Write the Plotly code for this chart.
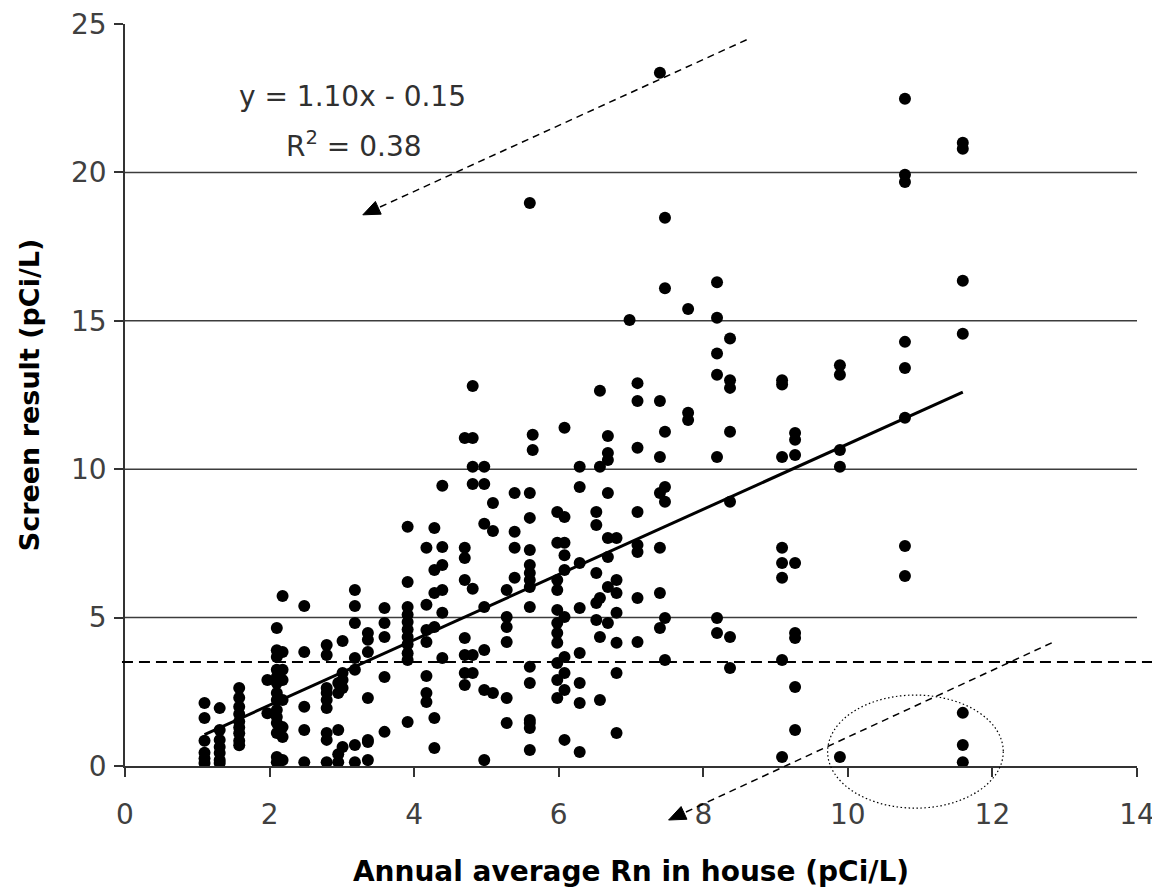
import math
import plotly.graph_objects as go

# ---- data (annual average Rn in house vs screen result) ----
column_rn = [1.10, 1.31, 1.58, 1.97, 2.10, 2.18, 2.48, 2.79, 2.95, 3.01, 3.18, 3.36, 3.59,
             3.91, 4.17, 4.28, 4.39, 4.70, 4.81, 4.97, 5.09, 5.28, 5.39, 5.60, 5.64, 5.98,
             6.08, 6.29, 6.52, 6.57, 6.68, 6.80, 6.98, 7.09, 7.40, 7.47, 7.79, 8.19, 8.37,
             9.09, 9.27, 9.89, 10.79, 11.59]
column_screen = [
    [2.12, 1.62, 0.85, 0.45, 0.25, 0.1],
    [1.95, 1.21, 0.88, 0.64, 0.44, 0.2, 0.1],
    [2.63, 2.3, 2.0, 1.75, 1.5, 1.3, 1.1, 0.85, 0.7],
    [2.9, 1.78],
    [4.65, 3.9, 3.67, 3.24, 3.0, 2.8, 2.46, 2.22, 1.89, 1.65, 1.45, 1.11, 0.3, 0.13],
    [5.73, 3.84, 3.24, 2.9, 2.22, 1.31, 0.98, 0.2],
    [5.39, 3.84, 2.0, 1.21, 0.13],
    [4.08, 3.74, 2.63, 2.46, 2.22, 1.95, 1.11, 0.88, 0.13],
    [2.8, 2.46, 1.21, 0.4, 0.13],
    [4.21, 3.13, 2.9, 2.63, 0.64],
    [5.93, 5.39, 4.82, 3.64, 3.24, 0.71, 0.13],
    [4.48, 4.25, 3.84, 2.29, 0.88, 0.81, 0.2],
    [5.32, 4.82, 4.35, 3.0, 1.15],
    [8.06, 6.2, 5.36, 5.1, 4.85, 4.6, 4.35, 4.1, 3.8, 3.57, 1.48],
    [7.35, 5.43, 4.58, 4.18, 3.03, 2.46, 2.16],
    [8.02, 6.6, 5.83, 4.68, 1.62, 0.61],
    [9.44, 7.38, 6.77, 5.93, 5.16, 3.64],
    [11.05, 7.35, 7.01, 6.27, 4.31, 3.74, 3.13, 2.73],
    [12.8, 11.05, 10.08, 9.5, 5.97, 3.74, 3.13],
    [10.08, 9.5, 8.16, 5.36, 3.91, 2.56, 0.2],
    [8.86, 7.92, 2.46],
    [5.93, 5.02, 4.68, 4.18, 2.29, 1.45],
    [9.2, 7.89, 7.35, 6.34],
    [18.97, 9.2, 8.36, 7.28, 6.77, 6.5, 6.27, 6.03, 5.36, 3.34, 2.8, 1.55, 1.45, 1.28, 0.54],
    [11.16, 10.65],
    [8.56, 7.52, 6.27, 5.93, 5.26, 4.82, 4.48, 4.15, 3.47, 2.9, 2.29],
    [11.4, 8.39, 7.52, 7.1, 6.6, 5.02, 3.67, 3.13, 2.56, 0.88],
    [10.08, 9.4, 6.84, 5.32, 3.81, 2.8, 2.12, 0.47],
    [8.56, 8.12, 6.5, 5.49, 4.92],
    [12.64, 10.08, 5.66, 4.35, 2.22],
    [11.12, 10.55, 10.31, 9.2, 7.68, 7.04, 6.03, 4.82],
    [7.68, 6.27, 5.83, 5.16, 4.15, 3.13, 1.11],
    [15.03],
    [12.9, 12.3, 10.72, 8.56, 7.45, 7.21, 5.66, 4.18],
    [23.36, 12.3, 10.41, 9.2, 7.35, 5.83, 4.65],
    [18.47, 16.1, 11.26, 9.4, 8.9, 4.99, 3.57],
    [15.4, 11.9, 11.66],
    [16.3, 15.1, 13.9, 13.18, 10.41, 4.99, 4.48],
    [14.4, 13.0, 12.74, 11.26, 8.9, 4.35, 3.3],
    [13.0, 12.85, 10.41, 7.35, 6.84, 6.34, 3.57, 0.3],
    [11.22, 10.99, 10.48, 6.84, 4.48, 4.31, 2.66, 1.21],
    [13.5, 13.18, 10.65, 10.08, 0.3],
    [22.48, 19.92, 19.68, 14.29, 13.41, 11.73, 7.41, 6.4],
    [21.0, 20.8, 16.35, 14.56, 1.79, 0.71, 0.13],
]

fit_slope = 1.10
fit_intercept = -0.15
fit_x_range = [1.10, 11.59]
action_level = 3.5
gridline_values = [5, 10, 15, 20]
x_ticks = [0, 2, 4, 6, 8, 10, 12, 14]
y_ticks = [0, 5, 10, 15, 20, 25]
X_MAX, Y_MAX = 14, 25

# ---- figure geometry ----
W, H = 1152, 888
M_L, M_R, M_T, M_B = 125, 15, 24, 122
PW, PH = W - M_L - M_R, H - M_T - M_B

# ---- flatten ----
rn_x, screen_y = [], []
for xv, ys in zip(column_rn, column_screen):
    for yv in ys:
        rn_x.append(xv)
        screen_y.append(yv)

fit_y = [fit_slope * v + fit_intercept for v in fit_x_range]

fig = go.Figure()
fig.add_trace(go.Scatter(
    x=rn_x, y=screen_y, mode="markers",
    marker=dict(color="black", size=12, line=dict(width=0)),
    showlegend=False, hoverinfo="x+y"))
fig.add_trace(go.Scatter(
    x=fit_x_range, y=fit_y, mode="lines",
    line=dict(color="black", width=3), showlegend=False))

shapes = []
for g in gridline_values:
    shapes.append(dict(type="line", xref="x", yref="y", x0=0, x1=X_MAX, y0=g, y1=g,
                       line=dict(color="#3c3c3c", width=1.5), layer="below"))
# dashed action-level line (extends past the right end of the axes)
shapes.append(dict(type="line", xref="paper", yref="y", x0=-0.003, x1=1.02,
                   y0=action_level, y1=action_level,
                   line=dict(color="black", width=2, dash="11px,6px")))


def px(v):
    return v / X_MAX


def py(v):
    return v / Y_MAX


# dashed arrows (paper coords so they may leave the axes)
arrows = [((8.60, 24.47), (3.29, 18.57)), ((12.82, 4.15), (7.52, -1.82))]
HEAD_LEN, HEAD_HALF = 17, 7
for (xs, ys_), (xt, yt) in arrows:
    dxp = (xt - xs) / X_MAX * PW
    dyp = -(yt - ys_) / Y_MAX * PH
    n = math.hypot(dxp, dyp)
    ux, uy = dxp / n, dyp / n
    tx, ty = px(xt), py(yt)
    base_x = tx - ux * HEAD_LEN / PW
    base_y = ty + uy * HEAD_LEN / PH
    shapes.append(dict(type="line", xref="paper", yref="paper",
                       x0=px(xs), y0=py(ys_), x1=base_x, y1=base_y,
                       line=dict(color="black", width=1.5, dash="7px,5px")))
    nx, ny = -uy, ux
    p1 = (base_x + nx * HEAD_HALF / PW, base_y - ny * HEAD_HALF / PH)
    p2 = (base_x - nx * HEAD_HALF / PW, base_y + ny * HEAD_HALF / PH)
    path = f"M {tx} {ty} L {p1[0]} {p1[1]} L {p2[0]} {p2[1]} Z"
    shapes.append(dict(type="path", xref="paper", yref="paper", path=path,
                       fillcolor="black", line=dict(color="black", width=1)))

# dotted ellipse
shapes.append(dict(type="circle", xref="paper", yref="paper",
                   x0=px(9.72), x1=px(12.15), y0=py(-1.42), y1=py(2.39),
                   line=dict(color="black", width=1.2, dash="1.5px,2.5px")))

eq_font = dict(family="DejaVu Sans", size=28, color="#303030")
annotations = [
    dict(xref="x", yref="y", x=3.15, y=22.55, text="y = 1.10x - 0.15",
         showarrow=False, font=eq_font),
    dict(xref="x", yref="y", x=3.17, y=20.95, text="R<sup>2</sup> = 0.38",
         showarrow=False, font=eq_font),
]

fig.update_layout(
    width=W, height=H,
    margin=dict(l=M_L, r=M_R, t=M_T, b=M_B, pad=0, autoexpand=False),
    paper_bgcolor="white", plot_bgcolor="white",
    shapes=shapes, annotations=annotations,
    showlegend=False,
    xaxis=dict(range=[0, X_MAX], tickvals=x_ticks, ticks="outside", ticklen=9,
               tickwidth=1.5, tickcolor="#333333", showline=True, linecolor="#333333",
               linewidth=1.5, showgrid=False, zeroline=False, ticklabelstandoff=14,
               automargin=False, ticklabeloverflow="allow",
               tickfont=dict(family="DejaVu Sans", size=28, color="#404040"),
               title=dict(text="<b>Annual average Rn in house (pCi/L)</b>", standoff=33,
                          font=dict(family="DejaVu Sans", size=28, color="black"))),
    yaxis=dict(range=[0, Y_MAX], tickvals=y_ticks, ticks="outside", ticklen=9,
               tickwidth=1.5, tickcolor="#333333", showline=True, linecolor="#333333",
               linewidth=1.5, showgrid=False, zeroline=False, ticklabelstandoff=2,
               automargin=False, ticklabeloverflow="allow",
               tickfont=dict(family="DejaVu Sans", size=28, color="#404040"),
               title=dict(text="<b>Screen result (pCi/L)</b>", standoff=24,
                          font=dict(family="DejaVu Sans", size=27, color="black"))),
)

fig.write_html("out.html", config={"displayModeBar": False},
               post_script="document.body.style.margin='0';")
